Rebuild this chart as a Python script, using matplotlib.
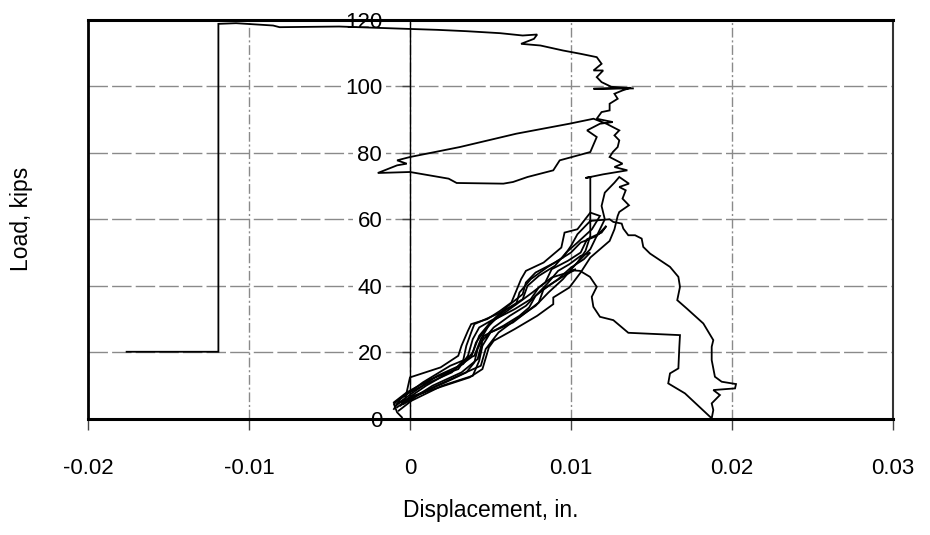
import matplotlib
matplotlib.use("Agg")
import matplotlib.pyplot as plt

plt.rcParams['font.family'] = ['Liberation Sans', 'DejaVu Sans']
plt.rcParams['axes.unicode_minus'] = False

# ---------------- data (displacement in., load kips) ----------------
x_ticks = [-0.02, -0.01, 0.0, 0.01, 0.02, 0.03]
x_tick_labels = ["-0.02", "-0.01", "0", "0.01", "0.02", "0.03"]
y_ticks = [0, 20, 40, 60, 80, 100, 120]
y_tick_labels = ["0", "20", "40", "60", "80", "100", "120"]

c1_x = [-0.0009, -0.0003, 0.0000, 0.0019, 0.0030, 0.0032, 0.0036, 0.0038, 0.0048, 0.0056, 0.0063, 0.0066, 0.0069,
        0.0072, 0.0083, 0.0094, 0.0096, 0.0104, 0.0112, 0.0118, 0.0113, 0.0104, 0.0097, 0.0090, 0.0080, 0.0073,
        0.0070, 0.0060, 0.0050, 0.0044, 0.0040, 0.0025, 0.0008, -0.0006, -0.0010]
c1_y = [4.0, 6.0, 12.5, 15.5, 19.0, 22.0, 26.5, 28.5, 30.0, 32.5, 35.0, 38.5, 42.0,
        44.5, 47.0, 51.5, 56.0, 57.0, 62.0, 61.0, 57.0, 53.0, 50.0, 46.0, 43.0, 40.0,
        36.0, 33.0, 29.0, 24.0, 19.0, 16.0, 11.0, 6.0, 3.0]

c2_x = [-0.0008, 0.0000, 0.0015, 0.0037, 0.0045, 0.0049, 0.0052, 0.0065, 0.0079, 0.0089, 0.0089, 0.0099, 0.0106,
        0.0112, 0.0124, 0.0127, 0.0129, 0.0130, 0.0136, 0.0132, 0.0134, 0.0130, 0.0136, 0.0130, 0.0127, 0.0121,
        0.0119, 0.0121, 0.0116, 0.0112, 0.0102, 0.0095, 0.0086, 0.0078, 0.0066, 0.0055, 0.0047, 0.0044, 0.0030,
        0.0012, -0.0003]
c2_y = [3.5, 6.5, 9.0, 12.5, 15.0, 21.5, 23.5, 27.0, 31.0, 34.5, 36.5, 39.5, 44.0,
        48.5, 53.5, 57.0, 61.0, 62.2, 64.2, 66.2, 68.7, 69.7, 70.7, 72.7, 71.0, 68.0,
        64.0, 60.0, 55.0, 51.0, 46.0, 42.0, 38.0, 34.0, 30.0, 26.0, 21.0, 16.0, 13.0,
        9.0, 5.0]

c3_x = [-0.0006, 0.0003, 0.0022, 0.0035, 0.0040, 0.0042, 0.0046, 0.0058, 0.0068, 0.0074, 0.0078, 0.0086, 0.0094,
        0.0103, 0.0098, 0.0088, 0.0080, 0.0075, 0.0065, 0.0053, 0.0047, 0.0041, 0.0038, 0.0028, 0.0010, -0.0005]
c3_y = [4.0, 7.0, 11.0, 14.0, 17.0, 21.0, 25.0, 28.0, 31.0, 33.5, 37.0, 40.0, 42.5,
        45.0, 44.0, 42.5, 39.5, 36.0, 33.0, 30.0, 27.0, 23.0, 18.5, 15.0, 10.0, 5.0]

c4_x = [-0.0010, -0.0002, 0.0013, 0.0030, 0.0036, 0.0039, 0.0043, 0.0052, 0.0061, 0.0070, 0.0072, 0.0078, 0.0090,
        0.0100, 0.0106, 0.0116, 0.0122, 0.0119, 0.0110, 0.0106, 0.0098, 0.0088, 0.0084, 0.0076, 0.0069, 0.0059,
        0.0049, 0.0043, 0.0039, 0.0033, 0.0017, 0.0002, -0.0008]
c4_y = [5.0, 8.0, 12.0, 15.0, 19.0, 24.0, 27.5, 30.0, 34.0, 37.5, 41.0, 44.0, 47.0,
        50.0, 53.0, 55.0, 58.0, 56.0, 54.0, 50.0, 47.5, 45.0, 41.0, 38.0, 35.5, 32.0,
        28.5, 25.0, 20.0, 16.5, 13.0, 8.0, 4.5]

c5_x = [-0.0007, 0.0001, 0.0020, 0.0039, 0.0043, 0.0045, 0.0050, 0.0064, 0.0072, 0.0080, 0.0083, 0.0092, 0.0100,
        0.0108, 0.0112, 0.0106, 0.0099, 0.0092, 0.0085, 0.0079, 0.0072, 0.0062, 0.0052, 0.0045, 0.0042, 0.0032,
        0.0014, -0.0004]
c5_y = [2.5, 5.5, 10.0, 13.0, 17.5, 22.0, 26.0, 29.0, 32.0, 35.0, 39.0, 42.0, 45.5,
        48.0, 50.0, 49.0, 46.5, 44.5, 40.5, 37.5, 34.0, 31.0, 27.5, 23.5, 18.0, 14.0,
        10.0, 4.5]

# last cycle: loading to 60, excursion on the right (down to 0 and back), then loading to failure
final_x = [-0.0005, -0.0008, -0.0010, -0.0004, 0.0010, 0.0026, 0.0033, 0.0035, 0.0038, 0.0040, 0.0054, 0.0066,
           0.0068, 0.0075, 0.0085, 0.0095, 0.0100, 0.0104, 0.0112, 0.0124,
           0.01263, 0.01315, 0.01325, 0.01356, 0.01398, 0.01439, 0.01449, 0.01491, 0.01615, 0.01667, 0.01677,
           0.0166, 0.01719, 0.01822, 0.01884, 0.01874, 0.01874, 0.01894, 0.01936, 0.02025, 0.02019, 0.01884,
           0.01925, 0.01874, 0.01884, 0.01874,
           0.01708, 0.01604, 0.01615, 0.01667, 0.01673, 0.01677, 0.01356, 0.01263, 0.0118, 0.01139, 0.01129,
           0.0116, 0.01118, 0.01056, 0.00994,
           0.0104, 0.0109, 0.0112, 0.0112, 0.0112, 0.0112, 0.0109, 0.0112, 0.0120, 0.0135, 0.0127, 0.0132,
           0.0124, 0.0126, 0.0129, 0.0130, 0.0127, 0.0130, 0.0122, 0.0114,
           0.0099, 0.0066, 0.0031, 0.0000, -0.0008, -0.0002, -0.0008, -0.0020,
           0.0000, 0.0024, 0.0029, 0.0058, 0.0064, 0.0073, 0.0089, 0.0093, 0.0112, 0.0116, 0.0110, 0.0118, 0.0126,
           0.0116, 0.0119, 0.0124, 0.0124, 0.0129, 0.0127, 0.0132, 0.0137, 0.0114, 0.0139, 0.0125, 0.0119,
           0.0116, 0.0120, 0.0114, 0.0119, 0.0116, 0.0106, 0.0095, 0.0081, 0.0069, 0.0077, 0.0079, 0.0070,
           0.0056, 0.0035, 0.0017, -0.0002, -0.0044, -0.0081, -0.0085, -0.0108, -0.0119, -0.0119, -0.0176]
final_y = [0.5, 2.0, 4.5, 7.0, 10.5, 14.0, 17.5, 22.0, 26.0, 28.5, 31.5, 34.5,
           38.0, 42.0, 45.5, 48.5, 52.0, 55.5, 59.5, 60.0,
           59.2, 58.7, 57.2, 55.2, 55.2, 54.2, 51.7, 49.7, 45.7, 42.7, 39.7,
           35.7, 33.2, 28.7, 23.7, 21.7, 17.7, 12.7, 11.2, 10.5, 9.2, 8.7,
           7.2, 4.7, 2.7, 0.2,
           7.7, 10.7, 13.7, 15.2, 21.7, 25.2, 25.9, 29.7, 30.7, 33.7, 36.7,
           39.7, 42.7, 44.5, 44.7,
           47.0, 50.5, 55.0, 60.0, 66.0, 72.7, 72.4, 72.7, 73.5, 74.7, 75.7, 76.7,
           78.7, 80.2, 81.7, 83.7, 85.2, 86.7, 88.7, 90.2,
           88.7, 85.7, 81.7, 78.7, 77.7, 76.7, 76.2, 73.9,
           74.2, 72.2, 70.9, 70.7, 71.2, 72.7, 74.7, 77.7, 80.2, 84.7, 86.7, 88.7, 89.2,
           90.2, 92.2, 92.7, 94.7, 96.2, 97.7, 98.7, 99.5, 99.2, 99.3, 99.8, 101.2,
           102.7, 104.7, 104.7, 106.7, 108.7, 109.7, 110.7, 112.2, 112.7, 114.2, 115.5, 115.2,
           115.9, 116.5, 116.9, 117.2, 117.9, 117.7, 118.2, 118.9, 118.7, 20.2, 20.2]

curves = [(c1_x, c1_y), (c2_x, c2_y), (c3_x, c3_y), (c4_x, c4_y), (c5_x, c5_y), (final_x, final_y)]

# ---------------- figure ----------------
fig = plt.figure(figsize=(9.3, 5.35), dpi=100)
ax = fig.add_axes([0.0946, 0.2168, 0.8656, 0.7467])

for cx, cy in curves:
    ax.plot(cx, cy, color='black', lw=1.3, solid_joinstyle='miter')

ax.set_xlim(-0.02, 0.03)
ax.set_ylim(0, 120)

ax.set_xticks(x_ticks)
ax.set_xticklabels(x_tick_labels)
ax.set_yticks(y_ticks)
ax.set_yticklabels(y_tick_labels)

# y axis sits at zero displacement
ax.spines['left'].set_position(('data', 0))
ax.spines['left'].set_linewidth(1.0)
ax.spines['left'].set_color('black')
for s in ['top', 'bottom']:
    ax.spines[s].set_linewidth(2.2)
    ax.spines[s].set_color('black')
ax.spines['right'].set_linewidth(1.5)
ax.spines['right'].set_color('#333333')
# left frame edge of the plot area
ax.plot([0, 0], [0, 1], transform=ax.transAxes, color='black', lw=2.0, zorder=3, clip_on=False)

ax.tick_params(axis='x', direction='out', length=8, width=1, pad=20, labelsize=16, color='#444444')
ax.tick_params(axis='y', direction='out', length=6, width=1, pad=14, labelsize=16, color='#444444')

for lab in ax.get_yticklabels():
    if lab.get_text() not in ("0", "120"):
        lab.set_bbox(dict(facecolor='white', edgecolor='none', pad=3))

ax.xaxis.grid(True, color='#8a8a8a', lw=1.0, linestyle=(0, (7, 2, 1.5, 2)))
ax.yaxis.grid(True, color='#8a8a8a', lw=1.0, linestyle=(0, (14, 3)))

ax.set_xlabel("Displacement, in.", fontsize=16.5)
ax.set_ylabel("Load, kips", fontsize=16.5)
ax.xaxis.label.set_va('center')
ax.yaxis.label.set_va('center')
ax.xaxis.set_label_coords(0.5, -0.228)
ax.yaxis.set_label_coords(-0.082, 0.5)

fig.savefig("out.png", dpi=100)
